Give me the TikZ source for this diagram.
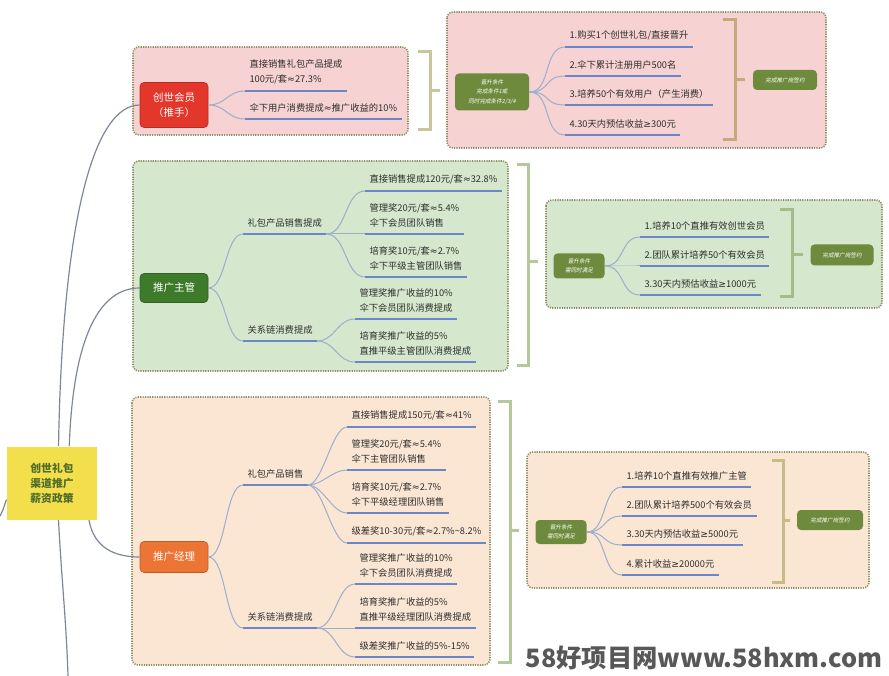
\documentclass[tikz,border=0pt]{standalone}
\usepackage{fontspec}
\setmainfont{Noto Sans CJK SC}
\newfontfamily\tinyslant[FakeSlant = 0.2]{Noto Sans CJK SC}
\newfontfamily\symfont{DejaVu Sans}
\newcommand{\apx}{{\symfont ≈}}
\newcommand{\gtq}{{\symfont ≥}}

\definecolor{pinkc}{HTML}{F6D2D2}
\definecolor{greenc}{HTML}{D5E7CD}
\definecolor{beigec}{HTML}{FBE6D4}
\definecolor{framec}{HTML}{8F8F66}
\definecolor{redc}{HTML}{E2372A}
\definecolor{darkgreenc}{HTML}{3D7B2B}
\definecolor{orangec}{HTML}{EC7535}
\definecolor{olivec}{HTML}{6E8B3D}
\definecolor{ulinec}{HTML}{6B87C7}
\definecolor{branchc}{HTML}{9DADCC}
\definecolor{rootc}{HTML}{7D8799}
\definecolor{yellowc}{HTML}{F3DF4B}
\definecolor{roottextc}{HTML}{4E6C2C}
\definecolor{textc}{HTML}{2E2E2E}
\definecolor{tanc}{HTML}{C9A97A}
\definecolor{palec}{HTML}{C7C69C}
\definecolor{sagec}{HTML}{B4C899}
\definecolor{mossc}{HTML}{C6BD86}
\definecolor{markc}{HTML}{585858}

\begin{document}
\begin{tikzpicture}[x = 1pt, y = -1pt, line width = 1pt,
                    frame/.style    = {draw = framec, fill = #1, rounded corners = 6pt, dash pattern = on 1.2pt off 1.2pt, line width = 1.6pt},
                    section/.style  = {rectangle, rounded corners = 4pt, draw = #1!80!black, fill = #1, text = white, align = center, line width = 0.6pt, font = \fontsize{10.5}{15}\selectfont},
                    item/.style     = {anchor = south west, inner xsep = 4pt, inner ysep = 6pt, align = left, text = textc, font = \fontsize{9.3}{15}\selectfont},
                    promote/.style  = {rectangle, rounded corners = 4pt, fill = olivec, text = white, align = center, inner sep = 1pt, font = \tinyslant\fontsize{5.6}{9.5}\selectfont},
                    uline/.style    = {draw = ulinec, line width = 2pt},
                    branch/.style   = {draw = branchc, line width = 1pt},
                    rootline/.style = {draw = rootc, line width = 1.2pt},
                    brk/.style      = {draw = #1, line width = 3pt}
                    ]
    \useasboundingbox (0, 0) rectangle (889, 676);

    % frames
    \draw[frame = pinkc] (133, 47) rectangle (408, 135);
    \draw[frame = pinkc] (447, 12) rectangle (826, 148);
    \draw[frame = greenc] (133, 161) rectangle (508, 371);
    \draw[frame = greenc] (546, 200) rectangle (882, 308);
    \draw[frame = beigec] (132, 397) rectangle (490, 665);
    \draw[frame = beigec] (527, 452) rectangle (869, 588);

    % brackets
    \draw[brk = palec] (418, 52) -- (430, 52) -- (430, 130) -- (418, 130) (430, 91) -- (440, 91);
    \draw[brk = tanc] (723, 20) -- (735, 20) -- (735, 140) -- (723, 140) (735, 80) -- (745, 80);
    \draw[brk = sagec] (517, 165) -- (528, 165) -- (528, 365) -- (517, 365) (528, 262) -- (538, 262);
    \draw[brk = sagec!80!olivec] (780, 210) -- (792, 210) -- (792, 297) -- (780, 297) (792, 255) -- (803, 255);
    \draw[brk = sagec] (498, 401) -- (510, 401) -- (510, 662) -- (498, 662) (510, 530) -- (519, 530);
    \draw[brk = mossc] (772, 460) -- (783, 460) -- (783, 582) -- (772, 582) (783, 520) -- (790, 520);

    % root
    \node[rectangle, fill = yellowc, text = roottextc, minimum width = 90, minimum height = 73, align = center,
          font = \bfseries\fontsize{10.8}{15}\selectfont] (root) at (52, 483) {创世礼包\\渠道推广\\薪资政策};

    % creator member
    \node[section = redc, minimum width = 68, minimum height = 45] (cs) at (174, 105) {创世会员\\（推手）};
    \node[item] (c1) at (245, 91) {直接销售礼包产品提成\\100元/套\apx{}27.3\%};
    \node[item] (c2) at (245, 119) {伞下用户消费提成\apx{}推广收益的10\%};

    \node[promote, minimum width = 74, minimum height = 37] (up1) at (492, 92) {晋升条件\\完成条件1或\\同时完成条件2/3/4};
    \node[item] (u11) at (565, 47) {1.购买1个创世礼包/直接晋升};
    \node[item] (u12) at (565, 76) {2.伞下累计注册用户500名};
    \node[item] (u13) at (565, 105) {3.培养50个有效用户（产生消费）};
    \node[item] (u14) at (565, 135) {4.30天内预估收益\gtq{}300元};
    \node[promote, minimum width = 64, minimum height = 20] (done1) at (785, 80) {完成推广岗签约};

    % supervisor
    \node[section = darkgreenc, minimum width = 68, minimum height = 29] (zg) at (174, 288) {推广主管};
    \node[item] (g1) at (243, 234) {礼包产品销售提成};
    \node[item] (g2) at (243, 341) {关系链消费提成};
    \node[item] (g11) at (365, 191) {直接销售提成120元/套\apx{}32.8\%};
    \node[item] (g12) at (365, 234) {管理奖20元/套\apx{}5.4\%\\伞下会员团队销售};
    \node[item] (g13) at (365, 277) {培育奖10元/套\apx{}2.7\%\\伞下平级主管团队销售};
    \node[item] (g21) at (355, 319) {管理奖推广收益的10\%\\伞下会员团队消费提成};
    \node[item] (g22) at (355, 362) {培育奖推广收益的5\%\\直推平级主管团队消费提成};

    \node[promote, minimum width = 51, minimum height = 25] (up2) at (579, 266) {晋升条件\\需同时满足};
    \node[item] (u21) at (640, 237) {1.培养10个直推有效创世会员};
    \node[item] (u22) at (640, 266) {2.团队累计培养50个有效会员};
    \node[item] (u23) at (640, 295) {3.30天内预估收益\gtq{}1000元};
    \node[promote, minimum width = 63, minimum height = 21] (done2) at (842, 255) {完成推广岗签约};

    % manager
    \node[section = orangec, minimum width = 68, minimum height = 31] (zj) at (174, 557) {推广经理};
    \node[item] (j1) at (243, 485) {礼包产品销售};
    \node[item] (j2) at (243, 628) {关系链消费提成};
    \node[item] (j11) at (347, 427) {直接销售提成150元/套\apx{}41\%};
    \node[item] (j12) at (347, 470) {管理奖20元/套\apx{}5.4\%\\伞下主管团队销售};
    \node[item] (j13) at (347, 513) {培育奖10元/套\apx{}2.7\%\\伞下平级经理团队销售};
    \node[item] (j14) at (347, 543) {级差奖10-30元/套\apx{}2.7\%\textasciitilde{}8.2\%};
    \node[item] (j21) at (355, 584) {管理奖推广收益的10\%\\伞下会员团队消费提成};
    \node[item] (j22) at (355, 628) {培育奖推广收益的5\%\\直推平级经理团队消费提成};
    \node[item] (j23) at (355, 657) {级差奖推广收益的5\%-15\%};

    \node[promote, minimum width = 51, minimum height = 24] (up3) at (561, 532) {晋升条件\\需同时满足};
    \node[item] (u31) at (622, 487) {1.培养10个直推有效推广主管};
    \node[item] (u32) at (622, 516) {2.团队累计培养500个有效会员};
    \node[item] (u33) at (622, 545) {3.30天内预估收益\gtq{}5000元};
    \node[item] (u34) at (622, 575) {4.累计收益\gtq{}20000元};
    \node[promote, minimum width = 66, minimum height = 20] (done3) at (830, 520) {完成推广岗签约};

    % underlines
    \foreach \n in {c1, c2, u11, u12, u13, u14, g1, g2, g11, g12, g13, g21, g22, u21, u22, u23,
                    j1, j2, j11, j12, j13, j14, j21, j22, j23, u31, u32, u33, u34}
        \draw[uline] (\n.south west) -- (\n.south east);

    % root lines
    \coordinate (offdown) at (68, 676);
    \coordinate (offleft) at (0, 516);
    \draw[rootline] (root.80) .. controls +(4, -230) and +(-45, 0) .. (cs.west);
    \draw[rootline] (root.65) .. controls +(4, -110) and +(-40, 0) .. (zg.west);
    \draw[rootline] (root.-45) .. controls +(5, 28) and +(-25, 0) .. (zj.west);
    \draw[rootline] (root.-80) .. controls +(3, 60) and +(-2, -60) .. (offdown);
    \draw[rootline] (root.200) .. controls +(-3, 8) and +(3, -5) .. (offleft);

    % branches
    \foreach \n in {c1, c2}
        \draw[branch] (cs.east) .. controls +(18, 0) and +(-18, 0) .. (\n.south west);
    \foreach \n in {u11, u12, u13, u14}
        \draw[branch] (up1.east) .. controls +(22, 0) and +(-22, 0) .. (\n.south west);
    \foreach \n in {g1, g2}
        \draw[branch] (zg.east) .. controls +(18, 0) and +(-18, 0) .. (\n.south west);
    \foreach \n in {g11, g12, g13}
        \draw[branch] (g1.south east) .. controls +(20, 0) and +(-20, 0) .. (\n.south west);
    \foreach \n in {g21, g22}
        \draw[branch] (g2.south east) .. controls +(18, 0) and +(-18, 0) .. (\n.south west);
    \foreach \n in {u21, u22, u23}
        \draw[branch] (up2.east) .. controls +(20, 0) and +(-20, 0) .. (\n.south west);
    \foreach \n in {j1, j2}
        \draw[branch] (zj.east) .. controls +(18, 0) and +(-18, 0) .. (\n.south west);
    \foreach \n in {j11, j12, j13, j14}
        \draw[branch] (j1.south east) .. controls +(15, 0) and +(-15, 0) .. (\n.south west);
    \foreach \n in {j21, j22, j23}
        \draw[branch] (j2.south east) .. controls +(18, 0) and +(-18, 0) .. (\n.south west);
    \foreach \n in {u31, u32, u33, u34}
        \draw[branch] (up3.east) .. controls +(20, 0) and +(-20, 0) .. (\n.south west);

    % watermark
    \node[text = markc, font = \bfseries\fontsize{25.3}{28}\selectfont, inner sep = 0pt] (mark) at (704, 658) {58好项目网www.58hxm.com};
\end{tikzpicture}
\end{document}
